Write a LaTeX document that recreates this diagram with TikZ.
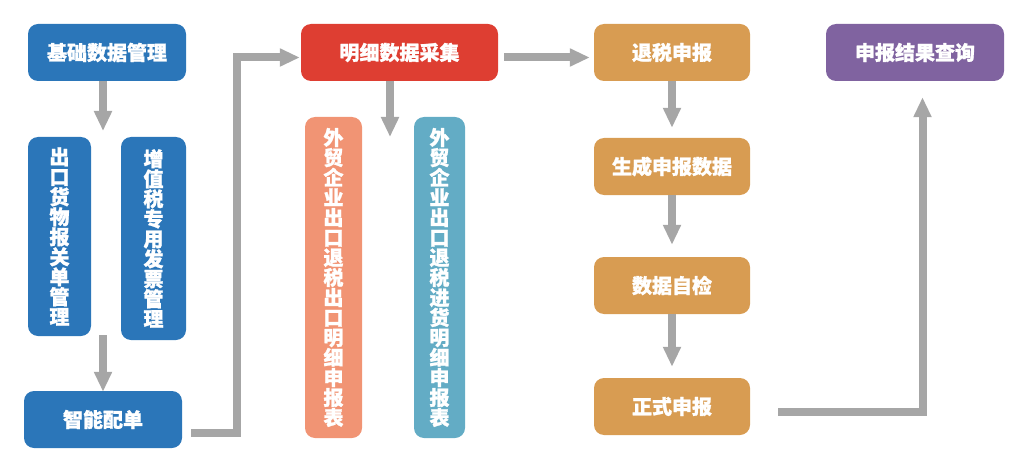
\documentclass[tikz,border=0pt]{standalone}
\usepackage{fontspec}
\newfontfamily\cjk{Noto Sans CJK SC}[BoldFeatures={FakeBold=1.2}]
\usetikzlibrary{arrows.meta}
\definecolor{cblue}{RGB}{43,118,185}
\definecolor{cred}{RGB}{222,62,50}
\definecolor{csalmon}{RGB}{241,148,116}
\definecolor{cteal}{RGB}{99,172,197}
\definecolor{corange}{RGB}{216,156,82}
\definecolor{cpurple}{RGB}{128,99,160}
\definecolor{cgray}{RGB}{166,166,166}
\tikzset{
  box/.style={rounded corners=10pt, text=white, inner sep=0pt, align=center,
    font=\cjk\bfseries\fontsize{20}{20}\selectfont},
  hbox/.style={box, minimum height=57pt},
  vbox/.style={box},
  conn/.style={draw=cgray, line width=8pt, line join=miter,
    -{Triangle[width=17pt,length=20pt]}},
}
\begin{document}
\begin{tikzpicture}[x=1pt,y=-1pt]
\useasboundingbox (0,0) rectangle (1024,473);
% nodes
\node[hbox, fill=cblue, minimum width=158pt] (jc) at (107,52.5) {基础数据管理};
\node[vbox, fill=cblue, minimum width=63pt, minimum height=199pt] (ck) at (59.5,236.5)
  {出\\口\\货\\物\\报\\关\\单\\管\\理};
\node[vbox, fill=cblue, minimum width=65pt, minimum height=203pt] (zz) at (153.5,238.5)
  {增\\值\\税\\专\\用\\发\\票\\管\\理};
\node[hbox, fill=cblue, minimum width=158pt] (pd) at (103,419.5) {智能配单};
\node[hbox, fill=cred, minimum width=197pt] (mx) at (399.5,52.5) {明细数据采集};
\node[vbox, fill=csalmon, minimum width=57pt, minimum height=321pt] (ex) at (333.5,277.5)
  {外\\贸\\企\\业\\出\\口\\退\\税\\出\\口\\明\\细\\申\\报\\表};
\node[vbox, fill=cteal, minimum width=51pt, minimum height=321pt] (jh) at (439.5,277.5)
  {外\\贸\\企\\业\\出\\口\\退\\税\\进\\货\\明\\细\\申\\报\\表};
\node[hbox, fill=corange, minimum width=156pt] (ts) at (672,52.5) {退税申报};
\node[hbox, fill=corange, minimum width=156pt] (sc) at (672,166.5) {生成申报数据};
\node[hbox, fill=corange, minimum width=156pt] (zj) at (672,285.5) {数据自检};
\node[hbox, fill=corange, minimum width=156pt] (zs) at (672,406.5) {正式申报};
\node[hbox, fill=cpurple, minimum width=178pt] (cx) at (915,52.5) {申报结果查询};
% free ends
\coordinate (a1) at (103,131);
\coordinate (a2) at (103,335);
\coordinate (a3) at (390,137);
% connectors
\draw[conn] ([xshift=-4pt]jc.south) -- (a1);
\draw[conn] (a2) -- ([yshift=-1pt]pd.north);
\draw[conn] ([xshift=9pt,yshift=-13.5pt]pd.east) -- ++(46,0) |- ([xshift=-1pt,yshift=-5pt]mx.west);
\draw[conn] ([xshift=-9.5pt]mx.south) -- (a3);
\draw[conn] ([xshift=6pt,yshift=-5pt]mx.east) -- ([xshift=-4pt,yshift=-5pt]ts.west);
\draw[conn] (ts.south) -- ([yshift=10pt]sc.north);
\draw[conn] (sc.south) -- ([yshift=12pt]zj.north);
\draw[conn] (zj.south) -- ([yshift=11pt]zs.north);
\draw[conn] ([xshift=28pt,yshift=-5.5pt]zs.east) -| ([xshift=7.5pt,yshift=-16pt]cx.south);
\end{tikzpicture}
\end{document}
